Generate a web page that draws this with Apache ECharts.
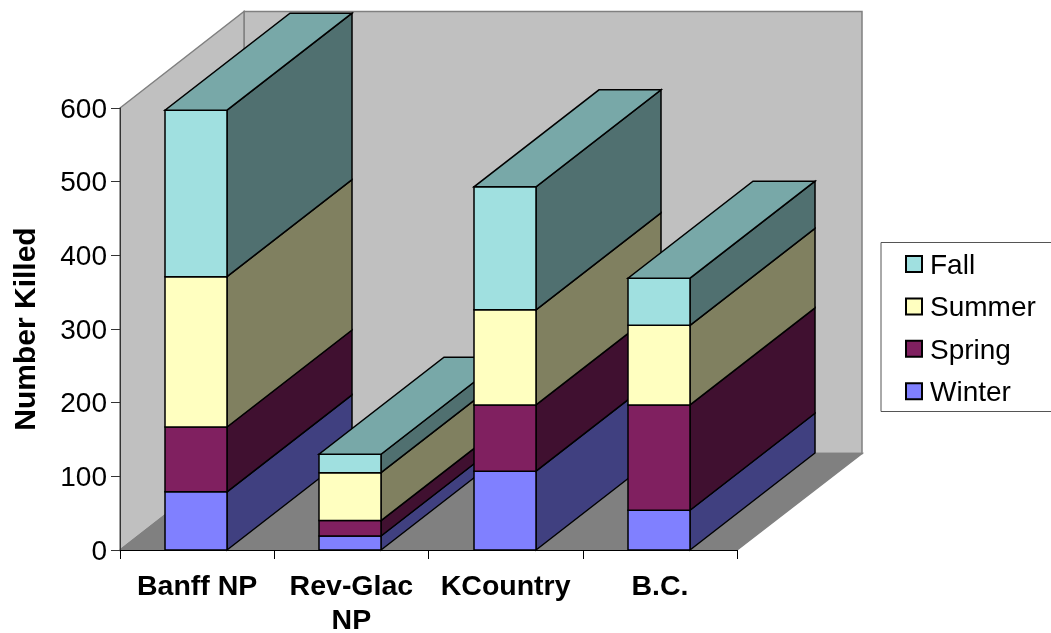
<!DOCTYPE html>
<html>
<head>
<meta charset="utf-8">
<style>html,body{margin:0;padding:0;background:#fff}#c{width:1051px;height:633px}</style>
<script src="https://cdn.jsdelivr.net/npm/echarts@6/dist/echarts.min.js"></script>
</head>
<body>
<div id="c"></div>
<script>
var categories = ['Banff NP', 'Rev-Glac\nNP', 'KCountry', 'B.C.'];
var winter = [79, 19, 107, 54];
var spring = [88, 21, 90, 143];
var summer = [204, 65, 129, 108];
var fall = [226, 25, 167, 64];
var seasonNames = ['Winter', 'Spring', 'Summer', 'Fall'];
var yTicks = { min: 0, max: 600, step: 100 };

var seasons = [winter, spring, summer, fall];
var frontColors = ['#8080ff', '#802060', '#ffffc0', '#a0e0e0'];
var sideColors = ['#404080', '#401030', '#808060', '#507070'];
var topColor = '#78a8a8';
var FONT = '"Liberation Sans", Arial, sans-serif';
var DX = 125, DY = -97, BAR_W = 62, WALL_DX = 124, WALL_DY = -96.5;
var edge = { stroke: '#000', lineWidth: 1.5, lineJoin: 'miter' };

function style(fill) { return Object.assign({ fill: fill }, edge); }
function poly(points, fill, z2) {
  return { type: 'polygon', z2: z2, shape: { points: points }, style: style(fill) };
}

function barRenderer(s) {
  return function (params, api) {
    var c = api.value(0);
    var base = 0;
    for (var i = 0; i < s; i++) base += seasons[i][c];
    var val = api.value(1);
    var p0 = api.coord([c, base]);
    var p1 = api.coord([c, base + val]);
    var xl = Math.round(p0[0]) - 32, xr = xl + BAR_W;
    var yb = p0[1], yt = p1[1];
    var z = 10 + c * 10 + s;
    var kids = [
      poly([[xr, yb], [xr + DX, yb + DY], [xr + DX, yt + DY], [xr, yt]], sideColors[s], z),
      poly([[xl, yb], [xr, yb], [xr, yt], [xl, yt]], frontColors[s], z)
    ];
    if (s === seasons.length - 1) {
      kids.push(poly([[xl, yt], [xr, yt], [xr + DX, yt + DY], [xl + DX, yt + DY]], topColor, z));
    }
    return { type: 'group', children: kids };
  };
}

function wallRenderer(params) {
  var g = params.coordSys;
  var l = g.x, r = g.x + g.width, t = g.y, b = g.y + g.height;
  var line = { stroke: '#808080', lineWidth: 1.5 };
  function wall(points, fill) {
    return { type: 'polygon', z2: 1, shape: { points: points }, style: Object.assign({ fill: fill }, line) };
  }
  return { type: 'group', children: [
    wall([[l + WALL_DX, t + WALL_DY], [r + 1 + WALL_DX, t + WALL_DY], [r + 1 + WALL_DX, b + WALL_DY], [l + WALL_DX, b + WALL_DY]], '#c0c0c0'),
    wall([[l, t], [l + WALL_DX, t + WALL_DY], [l + WALL_DX, b + WALL_DY], [l, b]], '#c0c0c0'),
    wall([[l, b], [l + WALL_DX, b + WALL_DY], [r + 1 + WALL_DX, b + WALL_DY], [r, b]], '#808080')
  ] };
}

var series = [{
  type: 'custom', name: 'walls', silent: true, clip: false, z: 2,
  data: [[0, 0]], renderItem: wallRenderer
}];
seasons.forEach(function (vals, s) {
  series.push({
    type: 'custom', name: seasonNames[s], silent: true, clip: false, z: 2,
    itemStyle: { color: frontColors[s], borderColor: '#000', borderWidth: 1.5 },
    encode: { x: 0, y: 1 },
    data: vals.map(function (v, i) { return [i, v]; }),
    renderItem: barRenderer(s)
  });
});

var chart = echarts.init(document.getElementById('c'), null, { renderer: 'canvas' });
chart.setOption({
  animation: false,
  backgroundColor: '#fff',
  grid: { left: 120, top: 108, width: 617, height: 442, containLabel: false, outerBoundsMode: 'none' },
  xAxis: {
    type: 'category', data: categories, z: 10,
    axisLine: { lineStyle: { color: '#000', width: 1 } },
    axisTick: { show: true, length: 9, lineStyle: { color: '#000', width: 1 } },
    axisLabel: { interval: 0, margin: 20, fontFamily: FONT, fontSize: 28.5, fontWeight: 'bold', color: '#000', lineHeight: 34, verticalAlign: 'top' },
    splitLine: { show: false }
  },
  yAxis: {
    type: 'value', min: yTicks.min, max: yTicks.max, interval: yTicks.step, z: 10,
    name: 'Number Killed', nameLocation: 'middle', nameGap: 78, nameRotate: 90,
    nameTextStyle: { fontFamily: FONT, fontSize: 30, fontWeight: 'bold', color: '#000' },
    axisLine: { show: true, lineStyle: { color: '#333', width: 1 } },
    axisTick: { show: true, length: 9, lineStyle: { color: '#333', width: 1 } },
    axisLabel: {
      margin: 13, color: '#000',
      formatter: '{a|{value}}',
      rich: { a: { fontFamily: FONT, fontSize: 28, color: '#000', padding: [4, 0, 0, 0] } }
    },
    splitLine: { show: false }
  },
  legend: {
    orient: 'vertical', left: 905, top: 252, padding: 0,
    itemWidth: 16, itemHeight: 16, itemGap: 14.4, icon: 'rect',
    data: seasonNames.slice().reverse(),
    formatter: '{a|{name}}',
    textStyle: { rich: { a: { fontFamily: FONT, fontSize: 28, color: '#000', padding: [4, 0, 0, 3] } } },
    selectedMode: false
  },
  graphic: [{
    type: 'rect', z: 0, silent: true,
    shape: { x: 881, y: 242.5, width: 200, height: 169 },
    style: { fill: '#fff', stroke: '#555', lineWidth: 1 }
  }],
  series: series
});
</script>
</body>
</html>
